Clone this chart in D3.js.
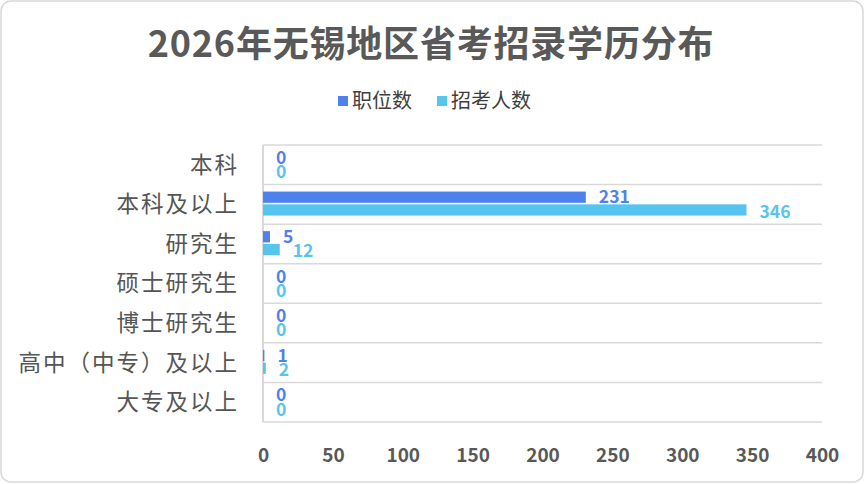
<!DOCTYPE html>
<html><head><meta charset="utf-8">
<script src="https://cdn.jsdelivr.net/npm/d3@7"></script>
<style>
html,body{margin:0;padding:0;background:#fff;}
text{font-family:"Microsoft YaHei","Noto Sans CJK SC",sans-serif;}
</style></head>
<body>
<svg id="c" width="865" height="484"></svg>
<script>
const title = "2026年无锡地区省考招录学历分布";
const categories = ["本科","本科及以上","研究生","硕士研究生","博士研究生","高中（中专）及以上","大专及以上"];
const seriesNames = ["职位数","招考人数"];
const positions = [0,231,5,0,0,1,0];
const applicants = [0,346,12,0,0,2,0];
const xTicks = [0,50,100,150,200,250,300,350,400];
const colors = ["#4f81ee","#55c5ef"];

const svg = d3.select("#c");
svg.append("rect").attr("x",1).attr("y",1).attr("width",862).attr("height",481)
  .attr("rx",10).attr("fill","#fff").attr("stroke","#d9d9d9").attr("stroke-width",1.5);

svg.append("text").attr("x",431).attr("y",57).attr("text-anchor","middle")
  .attr("font-size",36).attr("font-weight","bold").attr("letter-spacing",0.8)
  .attr("fill","#595959").text(title);

const L = 263, R = 822, T = 145, B = 422;
const x = d3.scaleLinear().domain([0,400]).range([L,R]);
const y = d3.scaleBand().domain(categories).range([T,B]).padding(0);
const ys = d3.scaleBand().domain(seriesNames).range([7,31]).paddingInner(0.12);

// gridlines
const g = svg.append("g");
const bounds = categories.map(c=>y(c)).concat([B]);
g.selectAll("line.grid").data(bounds).join("line")
  .attr("x1",L).attr("x2",R).attr("y1",d=>d).attr("y2",d=>d)
  .attr("stroke","#d9d9d9").attr("stroke-width",1.5);
g.append("line").attr("x1",L).attr("x2",L).attr("y1",T).attr("y2",B)
  .attr("stroke","#d9d9d9").attr("stroke-width",2);

// x axis
const xAxis = d3.axisBottom(x).tickValues(xTicks).tickSize(0).tickPadding(0);
const xa = svg.append("g").attr("transform",`translate(0,${B})`).call(xAxis);
xa.select(".domain").remove();
xa.selectAll("text").attr("font-size",19).attr("font-weight","bold").attr("fill","#595959")
  .attr("font-family","'Microsoft YaHei','Noto Sans CJK SC',sans-serif").attr("dy",0).attr("y",40);

// y axis
const yAxis = d3.axisLeft(y).tickSize(0).tickPadding(0);
const ya = svg.append("g").attr("transform",`translate(239,0)`).call(yAxis);
ya.select(".domain").remove();
ya.selectAll("text").attr("font-size",22.5).attr("fill","#555555").attr("letter-spacing",2)
  .attr("font-family","'Microsoft YaHei','Noto Sans CJK SC',sans-serif").attr("dy","0.35em");

// bars
const rows = categories.map((c,i)=>({c, vals:[positions[i],applicants[i]]}));
const rg = svg.selectAll("g.row").data(rows).join("g").attr("transform",d=>`translate(0,${y(d.c)})`);
rg.selectAll("rect").data(d=>d.vals.map((v,j)=>({v,s:seriesNames[j],j}))).join("rect")
  .attr("x",L).attr("y",d=>ys(d.s)).attr("height",ys.bandwidth())
  .attr("width",d=>x(d.v)-L).attr("fill",d=>colors[d.j]);
rg.selectAll("text").data(d=>d.vals.map((v,j)=>({v,s:seriesNames[j],j}))).join("text")
  .attr("x",d=>x(d.v)+13).attr("y",d=>ys(d.s)+ys.bandwidth()/2 + (d.j?1.5:0)).attr("dy","0.36em")
  .attr("font-size",17.5).attr("font-weight","bold").attr("fill",d=>colors[d.j]).text(d=>d.v);

// legend
const lg = svg.append("g").attr("transform","translate(0,101)");
const lx = [338,437];
seriesNames.forEach((n,i)=>{
  lg.append("rect").attr("x",lx[i]).attr("y",-5).attr("width",10).attr("height",10).attr("fill",colors[i]);
  lg.append("text").attr("x",lx[i]+14).attr("y",0).attr("dy","0.36em").attr("font-size",20)
    .attr("fill","#404040").text(n);
});
</script>
</body></html>
